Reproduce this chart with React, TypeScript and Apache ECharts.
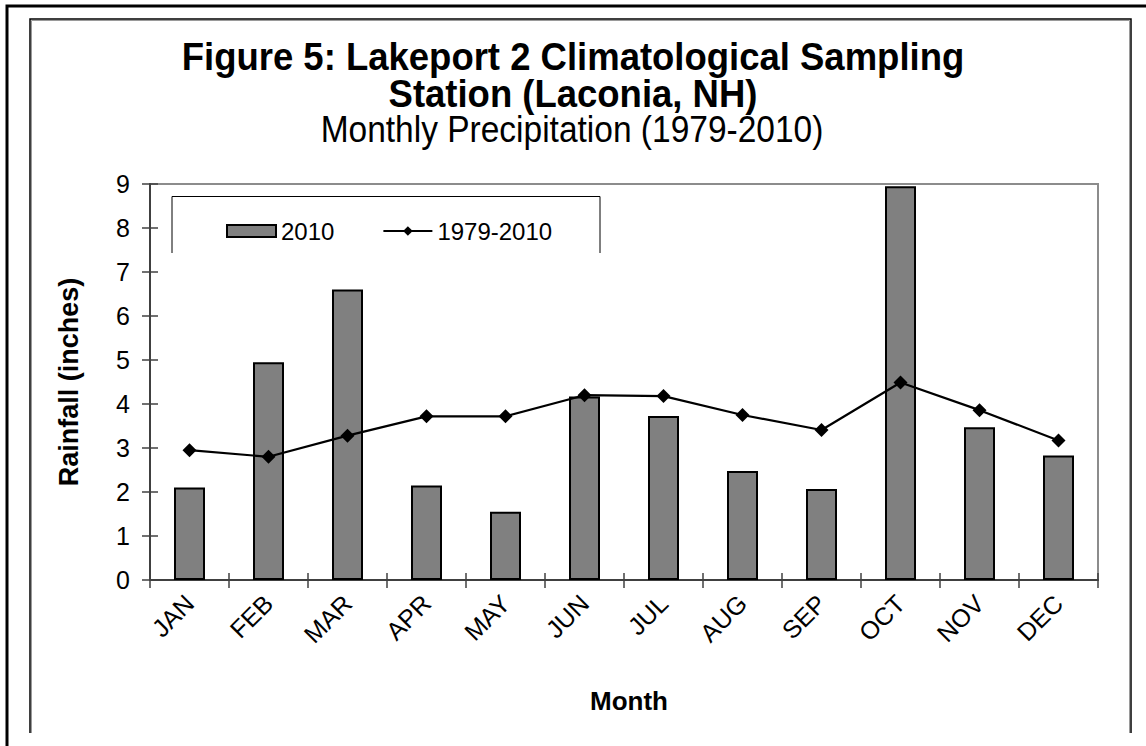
import React, { useEffect, useRef } from "react";
import * as echarts from "echarts";

const months = ["JAN", "FEB", "MAR", "APR", "MAY", "JUN", "JUL", "AUG", "SEP", "OCT", "NOV", "DEC"];
const rain2010 = [2.1, 4.95, 6.6, 2.15, 1.55, 4.17, 3.73, 2.48, 2.07, 8.95, 3.47, 2.83];
const rainAvg = [2.95, 2.8, 3.28, 3.72, 3.72, 4.2, 4.18, 3.75, 3.41, 4.49, 3.86, 3.17];
const yTicks = { min: 0, max: 9, interval: 1 };
const titleLines = ["Figure 5: Lakeport 2 Climatological Sampling", "Station (Laconia, NH)"];
const subtitle = "Monthly Precipitation (1979-2010)";

const FONT = "'Liberation Sans', Arial, sans-serif";

export default function App() {
  const ref = useRef<HTMLDivElement>(null);
  useEffect(() => {
    if (!ref.current) return;
    const chart = echarts.init(ref.current, null, { renderer: "svg" });
    const axisColor = "#404040";
    chart.setOption({
      animation: false,
      backgroundColor: "#ffffff",
      textStyle: { fontFamily: FONT },
      grid: {
        left: 150,
        right: 48,
        top: 184,
        bottom: 166,
        show: true,
        borderColor: "#8c8c8c",
        borderWidth: 2,
        backgroundColor: "transparent",
      },
      legend: {
        left: 221,
        top: 214,
        itemWidth: 49,
        itemHeight: 12,
        itemGap: 48,
        textStyle: { fontSize: 24, color: "#000", fontFamily: FONT },
        data: [{ name: "2010", icon: "rect" }, { name: "1979-2010" }],
      },
      xAxis: [
        {
          type: "category",
          data: months,
          boundaryGap: true,
          axisLine: { lineStyle: { color: axisColor, width: 2 } },
          axisTick: { show: true, length: 8, lineStyle: { color: axisColor, width: 1.5 } },
          axisLabel: { rotate: 45, fontSize: 25, color: "#000", margin: 19, fontFamily: FONT },
          name: "Month",
          nameLocation: "middle",
          nameGap: 108,
          nameTextStyle: { fontSize: 26, fontWeight: "bold", color: "#000", fontFamily: FONT, padding: [0, 0, 0, 10] },
        },
        {
          type: "category",
          data: months,
          position: "bottom",
          boundaryGap: true,
          axisLine: { show: false },
          axisTick: { show: true, inside: true, length: 7, lineStyle: { color: axisColor, width: 1.5 } },
          axisLabel: { show: false },
        },
      ],
      yAxis: [
        {
          type: "value",
          min: yTicks.min,
          max: yTicks.max,
          interval: yTicks.interval,
          splitLine: { show: false },
          axisLine: { show: true, lineStyle: { color: axisColor, width: 2 } },
          axisTick: { show: true, length: 8, lineStyle: { color: axisColor, width: 1.5 } },
          axisLabel: { fontSize: 25, color: "#000", margin: 20, fontFamily: FONT },
          name: "Rainfall (inches)",
          nameLocation: "middle",
          nameGap: 68,
          nameTextStyle: { fontSize: 27, fontWeight: "bold", color: "#000", fontFamily: FONT },
        },
        {
          type: "value",
          position: "left",
          min: yTicks.min,
          max: yTicks.max,
          interval: yTicks.interval,
          splitLine: { show: false },
          axisLine: { show: false },
          axisTick: { show: true, inside: true, length: 8, lineStyle: { color: axisColor, width: 1.5 } },
          axisLabel: { show: false },
        },
      ],
      series: [
        {
          name: "2010",
          type: "bar",
          data: rain2010,
          barWidth: 31,
          itemStyle: { color: "#808080", borderColor: "#000", borderWidth: 2 },
          z: 2,
        },
        {
          name: "1979-2010",
          type: "line",
          data: rainAvg,
          symbol: "diamond",
          symbolSize: 14,
          lineStyle: { color: "#000", width: 2.2 },
          itemStyle: { color: "#000" },
          z: 3,
        },
      ],
      graphic: [
        {
          type: "polyline",
          shape: { points: [[7, 746], [7, 6], [1146, 6]] },
          style: { stroke: "#000", lineWidth: 3, fill: "none" },
          silent: true,
        },
        {
          type: "polyline",
          shape: { points: [[31.5, 733], [31.5, 20.5], [1129.5, 20.5], [1129.5, 733]] },
          style: { stroke: "#9a9a9a", lineWidth: 1, fill: "none" },
          silent: true,
        },
        {
          type: "polyline",
          shape: { points: [[30, 733], [30, 19], [1131, 19], [1131, 733]] },
          style: { stroke: "#000", lineWidth: 1.5, fill: "none" },
          silent: true,
        },
        {
          type: "polyline",
          shape: { points: [[172, 253], [172, 196.5], [600, 196.5], [600, 253]] },
          style: { stroke: "#000", lineWidth: 1, fill: "none" },
          silent: true,
        },
        {
          type: "text",
          x: 573,
          y: 57,
          scaleY: 1.08,
          style: {
            text: titleLines[0],
            fontSize: 36.5,
            fontWeight: "bold",
            fontFamily: FONT,
            fill: "#000",
            textAlign: "center",
            textVerticalAlign: "middle",
          },
        },
        {
          type: "text",
          x: 573,
          y: 94,
          scaleY: 1.08,
          style: {
            text: titleLines[1],
            fontSize: 36.5,
            fontWeight: "bold",
            fontFamily: FONT,
            fill: "#000",
            textAlign: "center",
            textVerticalAlign: "middle",
          },
        },
        {
          type: "text",
          x: 572,
          y: 129,
          scaleY: 1.08,
          style: {
            text: subtitle,
            fontSize: 33.5,
            fontFamily: FONT,
            fill: "#000",
            textAlign: "center",
            textVerticalAlign: "middle",
          },
        },
      ],
    });
    return () => chart.dispose();
  }, []);
  return (
    <div
      ref={ref}
      style={{ position: "fixed", left: 0, top: 0, width: 1146, height: 746, background: "#fff" }}
    />
  );
}
